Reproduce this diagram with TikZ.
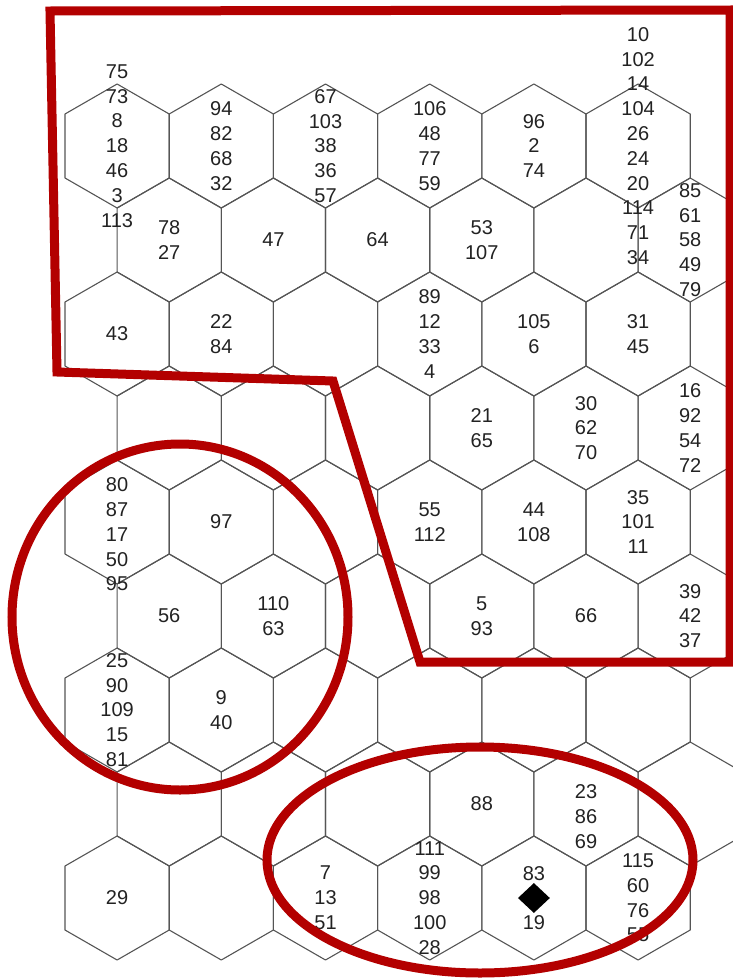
\documentclass[tikz,border=0pt]{standalone}
\usepackage{fontspec}
\usepackage{tikz}
\usetikzlibrary{shapes.geometric}
\newfontfamily\hexfont{Liberation Sans}
\definecolor{zonered}{HTML}{B30000}
\definecolor{hexgray}{HTML}{555555}
\definecolor{hexink}{HTML}{222222}

\begin{document}
\begin{tikzpicture}[
    x=1pt, y=-1pt,
    hexline/.style={draw=hexgray, line width=1.1pt, line join=round},
    cell/.style={font={\hexfont\fontsize{20}{24.8}\selectfont}, align=center,
                 text=hexink, inner sep=0pt},
    zone/.style={draw=zonered, line width=9pt, line join=miter},
]
\useasboundingbox (0,0) rectangle (733,980);

% honeycomb, 9 rows of 6 cells
\foreach \r in {1,...,9} {
    \foreach \c in {1,...,6} {
        \pgfmathsetmacro{\hx}{117.1+104.2*(\c-1)+52.1*(1-mod(\r,2))}
        \pgfmathsetmacro{\hy}{146+94*(\r-1)}
        \coordinate (h-\r-\c) at (\hx,\hy);
        \draw[hexline] (\hx,\hy) ++(0,-62) -- ++(52.1,30) -- ++(0,64)
            -- ++(-52.1,30) -- ++(-52.1,-30) -- ++(0,-64) -- cycle;
    }
}

\foreach \r/\c/\txt in {
    1/1/{75\\73\\8\\18\\46\\3\\113}, 1/2/{94\\82\\68\\32},
    1/3/{67\\103\\38\\36\\57}, 1/4/{106\\48\\77\\59}, 1/5/{96\\2\\74},
    1/6/{10\\102\\14\\104\\26\\24\\20\\114\\71\\34},
    2/1/{78\\27}, 2/2/{47}, 2/3/{64}, 2/4/{53\\107}, 2/6/{85\\61\\58\\49\\79},
    3/1/{43}, 3/2/{22\\84}, 3/4/{89\\12\\33\\4}, 3/5/{105\\6}, 3/6/{31\\45},
    4/4/{21\\65}, 4/5/{30\\62\\70}, 4/6/{16\\92\\54\\72},
    5/2/{97}, 5/4/{55\\112}, 5/5/{44\\108}, 5/6/{35\\101\\11},
    6/1/{56}, 6/2/{110\\63}, 6/4/{5\\93}, 6/5/{66}, 6/6/{39\\42\\37},
    7/1/{25\\90\\109\\15\\81}, 7/2/{9\\40},
    8/4/{88},
    9/1/{29}, 9/3/{7\\13\\51}, 9/4/{111\\99\\98\\100\\28},
    9/5/{83\\\strut\\19}, 9/6/{115\\60\\76\\55}} {
    \node[cell] (t-\r-\c) at (h-\r-\c) {\txt};
}
\node[cell, yshift=-12.5pt] (t-5-1) at (h-5-1) {80\\87\\17\\50\\95};
\node[cell, yshift=-12.5pt] (t-8-5) at (h-8-5) {23\\86\\69};

\node[diamond, fill=black, inner sep=0pt, minimum width=32pt,
      minimum height=30pt] (mark) at (h-9-5) {};

\draw[zone] (50,11) -- (730,10) -- (730,662) -- (420,662)
    -- (333,381) -- (57,372) -- cycle;
\draw[zone] (180,617) ellipse [x radius=168pt, y radius=173pt];
\draw[zone] (480,860) ellipse [x radius=213pt, y radius=113pt];

\end{tikzpicture}
\end{document}
